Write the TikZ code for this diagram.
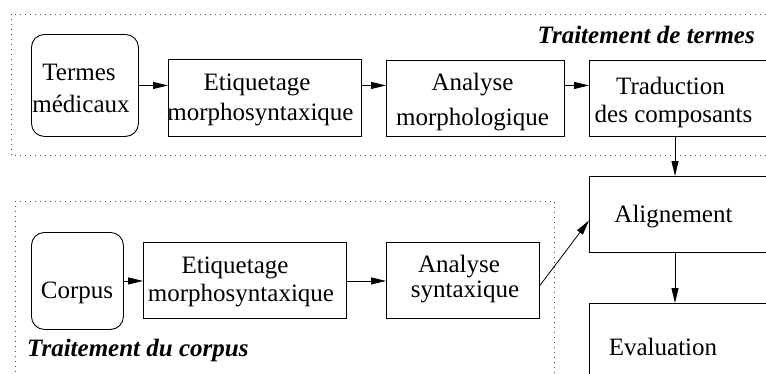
\documentclass[tikz,border=0pt]{standalone}
\usepackage{fontspec}
\setmainfont{Liberation Serif}
\usetikzlibrary{arrows.meta}
\begin{document}
\begin{tikzpicture}[x=1pt,y=-1pt,
  box/.style={draw, line width=0.9pt, inner sep=0pt, anchor=north west},
  rbox/.style={box, rounded corners=13pt},
  lbl/.style={anchor=base, inner sep=0pt, font=\fontsize{25}{30}\selectfont},
  ttl/.style={inner sep=0pt, font=\fontsize{25}{30}\selectfont\bfseries\itshape},
  arr/.style={-{Triangle[length=15pt,width=7pt]}, line width=0.8pt},
  dotframe/.style={draw, line width=0.9pt, dash pattern=on 0.9pt off 4.1pt, black!70}]
\useasboundingbox (0,0) rectangle (766,373);
\clip (0,0) rectangle (766,373);
% frames
\draw[dotframe] (11,14) rectangle (790,155);
\draw[dotframe] (15,201) rectangle (554,395);
\node[ttl, anchor=base east] (t1) at (755,43) {Traitement de termes};
\node[ttl, anchor=base west] (t2) at (27,356) {Traitement du corpus};
% boxes
\node[rbox, minimum width=107pt, minimum height=102pt] (termes) at (31,34) {};
\node[box, minimum width=193pt, minimum height=77pt] (etq1) at (168,59) {};
\node[box, minimum width=178pt, minimum height=76pt] (anam) at (386,60) {};
\node[box, minimum width=250pt, minimum height=76pt] (trad) at (589,60) {};
\node[box, minimum width=250pt, minimum height=76pt] (align) at (589,176) {};
\node[box, minimum width=250pt, minimum height=110pt] (eval) at (589,303) {};
\node[rbox, minimum width=92pt, minimum height=97pt] (corpus) at (31,232) {};
\node[box, minimum width=203pt, minimum height=76pt] (etq2) at (143,242) {};
\node[box, minimum width=153pt, minimum height=76pt] (ansyn) at (386,242) {};
% texts
\node[lbl] (l1a) at (79,80) {Termes};
\node[lbl] (l1b) at (81,112) {médicaux};
\node[lbl] (l2a) at (257,90) {Etiquetage};
\node[lbl] (l2b) at (260.5,120) {morphosyntaxique};
\node[lbl] (l3a) at (472.5,90) {Analyse};
\node[lbl] (l3b) at (472.5,125) {morphologique};
\node[lbl] (l4a) at (670.5,94) {Traduction};
\node[lbl] (l4b) at (673.5,122) {des composants};
\node[lbl] (l5) at (673.5,222) {Alignement};
\node[lbl] (l6) at (663,355) {Evaluation};
\node[lbl] (l7) at (77,298) {Corpus};
\node[lbl] (l8a) at (235,273) {Etiquetage};
\node[lbl] (l8b) at (241,301) {morphosyntaxique};
\node[lbl] (l9a) at (459,272) {Analyse};
\node[lbl] (l9b) at (465,297) {syntaxique};
% arrows
\coordinate (col) at (675,0);
\draw[arr] (termes.east) -- (termes.east -| etq1.west);
\draw[arr] (termes.east -| etq1.east) -- (termes.east -| anam.west);
\draw[arr] (termes.east -| anam.east) -- (termes.east -| trad.west);
\draw[arr] (trad.south -| col) -- (align.north -| col);
\draw[arr] (align.south -| col) -- (eval.north -| col);
\draw[arr] (corpus.east) -- (corpus.east -| etq2.west);
\draw[arr] (corpus.east -| etq2.east) -- (corpus.east -| ansyn.west);
\draw[arr] ([yshift=-5pt]ansyn.east) -- ([yshift=-6pt]align.west);
\end{tikzpicture}
\end{document}
